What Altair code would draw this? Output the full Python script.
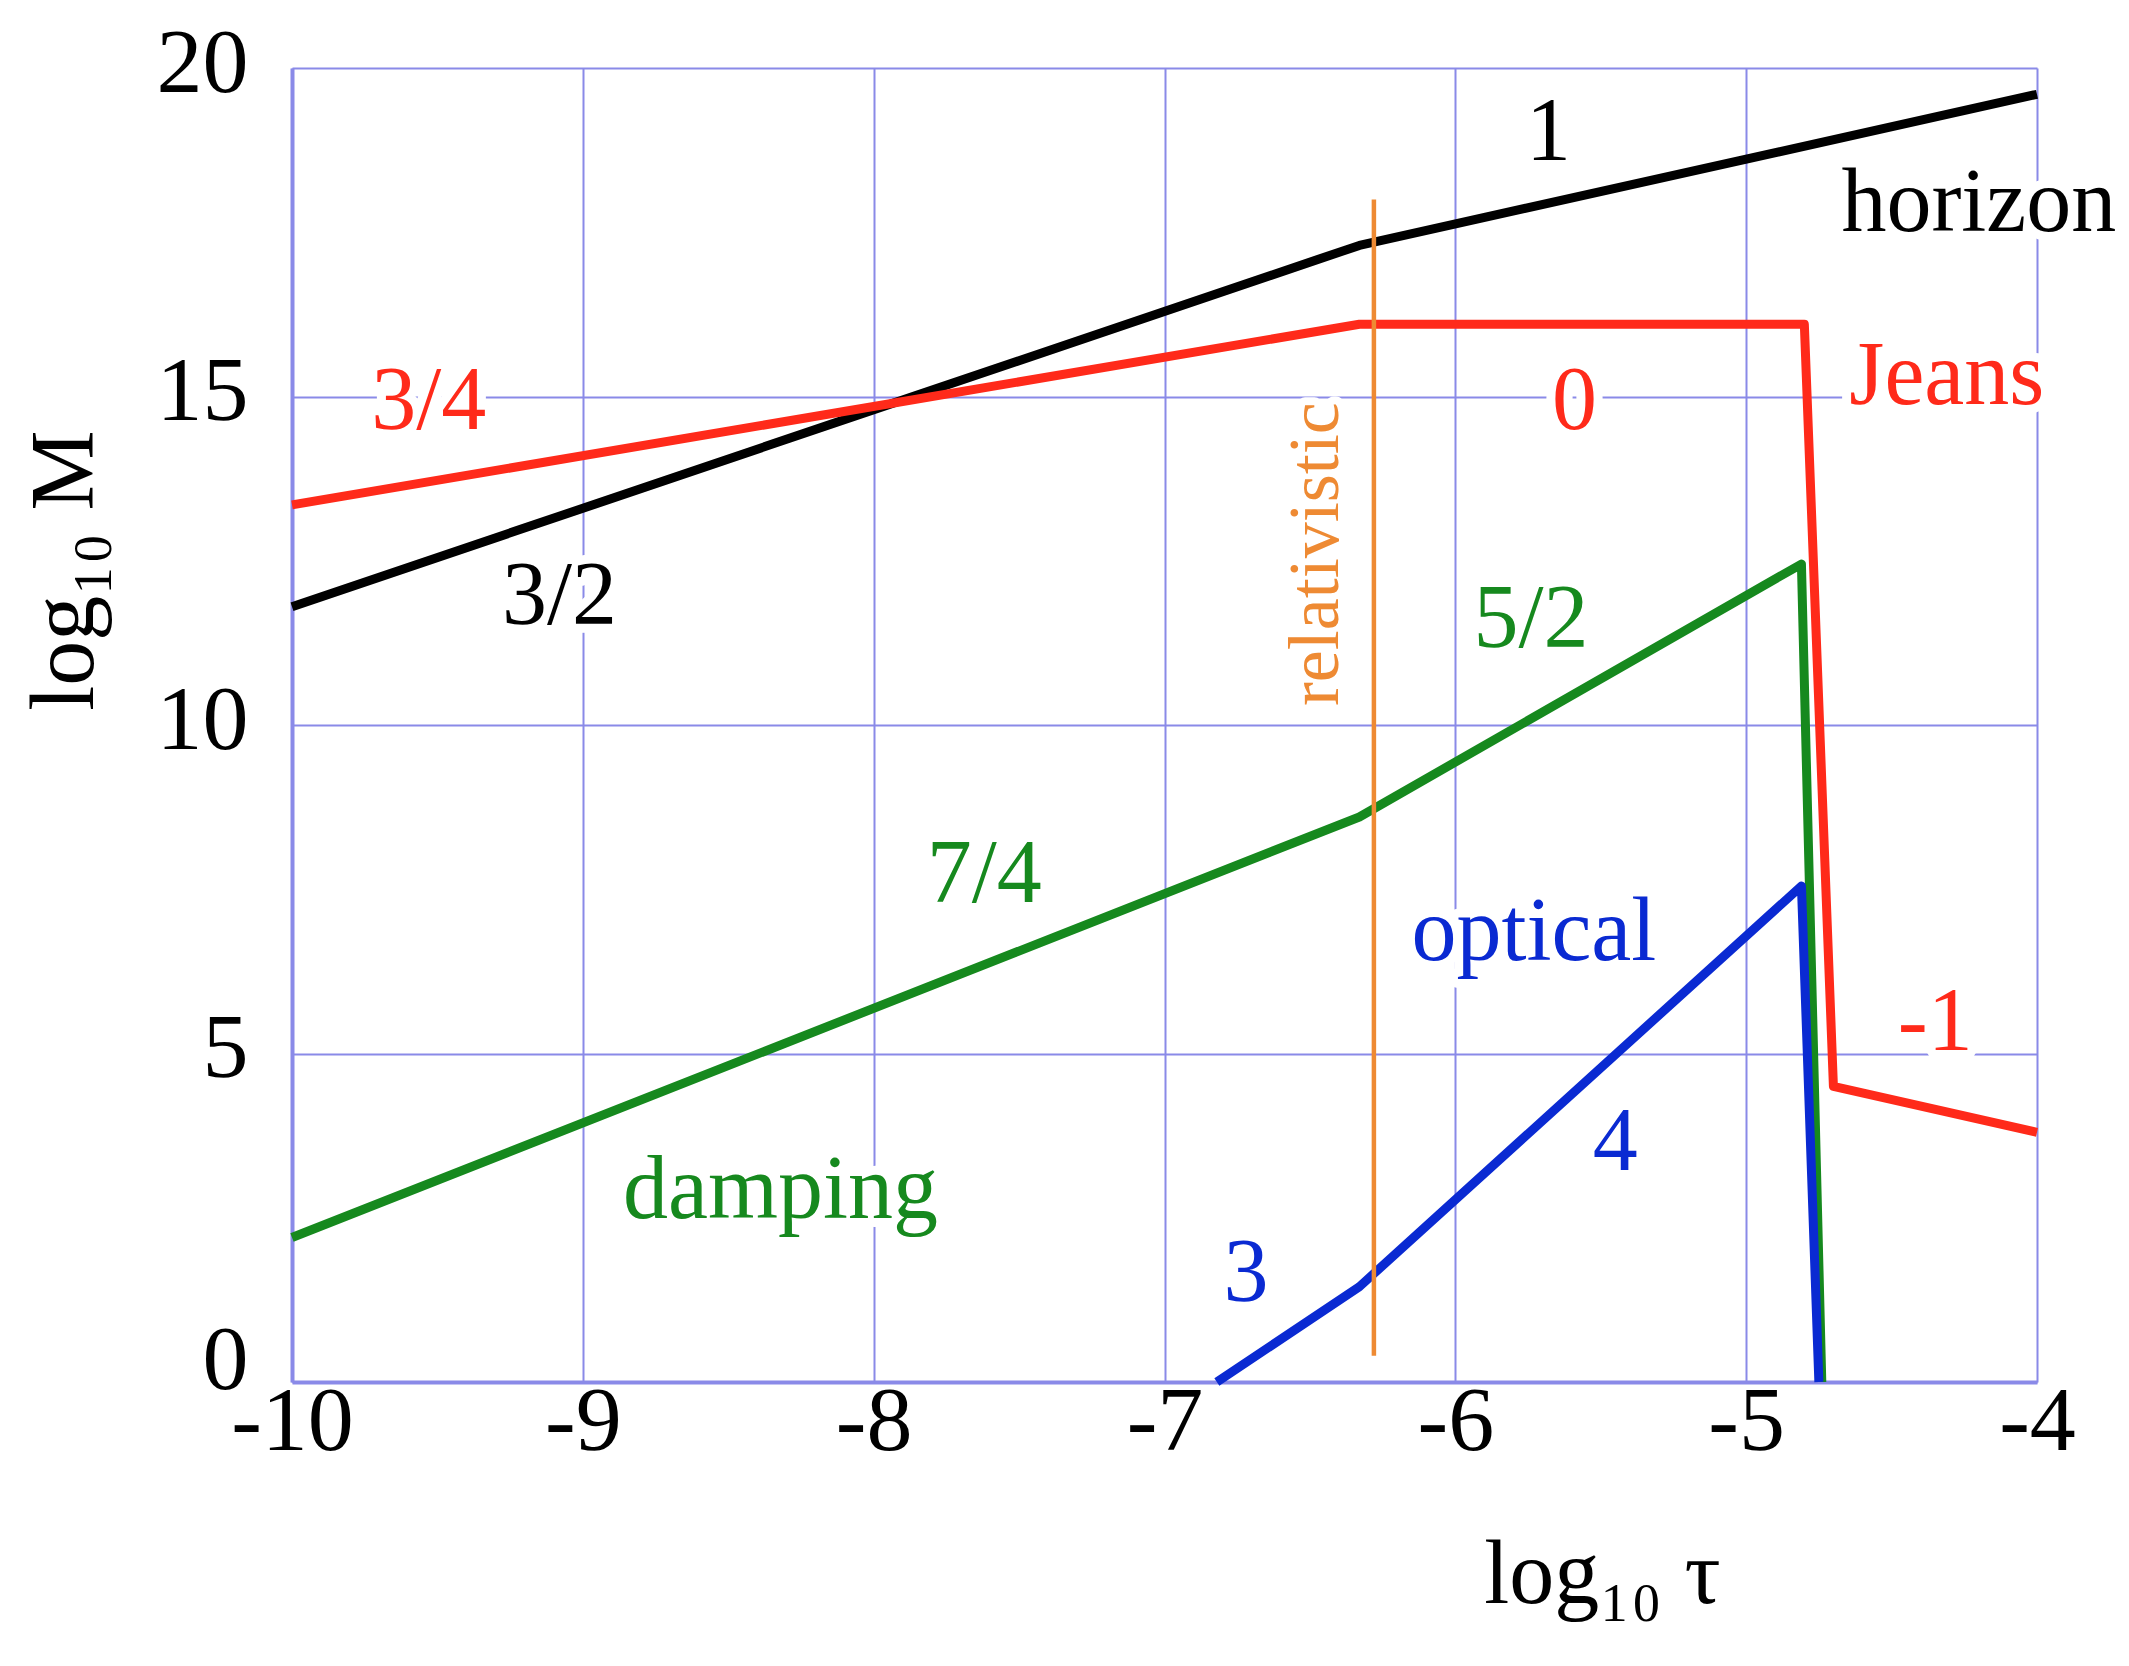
import altair as alt
import pandas as pd

# ---- data (x = log10 tau, y = log10 M) ----
horizon_x = [-10.0, -6.33, -4.0]
horizon_y = [11.8, 17.3, 19.6]
jeans_x = [-10.0, -6.33, -4.80, -4.70, -4.0]
jeans_y = [13.35, 16.1, 16.1, 4.5, 3.8]
damping_x = [-10.0, -6.33, -4.81, -4.74]
damping_y = [2.2, 8.6, 12.45, 0.0]
optical_x = [-6.82, -6.33, -4.81, -4.75]
optical_y = [0.0, 1.45, 7.55, 0.0]
relativistic_x = [-6.28, -6.28]
relativistic_y = [0.4, 18.0]

label_text = ["1", "horizon", "3/4", "0", "Jeans", "3/2", "5/2", "7/4",
              "optical", "-1", "4", "damping", "3"]
label_series = ["horizon", "horizon", "Jeans", "Jeans", "Jeans", "horizon",
                "damping", "damping", "optical", "Jeans", "optical",
                "damping", "optical"]
label_x = [-5.68, -4.20, -9.53, -5.59, -4.31, -9.08, -5.74, -7.62,
           -5.73, -4.35, -5.45, -8.32, -6.72]
label_y = [18.6, 17.52, 14.5, 14.5, 14.88, 11.53, 11.18, 7.31,
           6.43, 5.06, 3.22, 2.5, 1.24]

rel_label_text = ["relativistic"]
rel_label_x = [-6.48]
rel_label_y = [12.6]

x_ticks = [-10, -9, -8, -7, -6, -5, -4]
y_ticks = [0, 5, 10, 15, 20]

series_names = ["horizon", "Jeans", "damping", "optical", "relativistic"]
series_colors = ["#000000", "#ff2a1a", "#16891e", "#0a2ad2", "#ee8a33"]

# ---- tables ----
rows = []
for name, xs, ys in [("horizon", horizon_x, horizon_y),
                     ("Jeans", jeans_x, jeans_y),
                     ("damping", damping_x, damping_y),
                     ("optical", optical_x, optical_y)]:
    for i, (xv, yv) in enumerate(zip(xs, ys)):
        rows.append({"series": name, "i": i, "x": xv, "y": yv})
curves = pd.DataFrame(rows)
rel = pd.DataFrame({"series": "relativistic", "i": [0, 1],
                    "x": relativistic_x, "y": relativistic_y})
labels = pd.DataFrame({"text": label_text, "series": label_series,
                       "x": label_x, "y": label_y})
rel_labels = pd.DataFrame({"text": rel_label_text, "series": "relativistic",
                           "x": rel_label_x, "y": rel_label_y})

FONT = "Liberation Serif"
GRID = "#8a8ae8"

color = alt.Color("series:N", scale=alt.Scale(domain=series_names, range=series_colors), legend=None)

xenc = alt.X("x:Q",
             scale=alt.Scale(domain=[-10, -4], nice=False, zero=False),
             axis=alt.Axis(values=x_ticks, title="log₁₀ τ",
                           labelExpr="'' + datum.value",
                           titleX=1310, titleY=220, titleAlign="center",
                           titleBaseline="alphabetic"))
yenc = alt.Y("y:Q",
             scale=alt.Scale(domain=[0, 20], nice=False, zero=False),
             axis=alt.Axis(values=y_ticks, title="log₁₀ M",
                           labelExpr="'' + datum.value",
                           labelOffset={"condition": {"test": "datum.value == 0", "value": -22},
                                        "value": -5},
                           titleAngle=270, titleX=-200, titleY=502,
                           titleAlign="center", titleBaseline="alphabetic"))

base_curves = alt.Chart(curves).mark_line(strokeWidth=9, strokeJoin="round", strokeCap="butt").encode(
    x=xenc, y=yenc, color=color, detail="series:N", order="i:Q")

rel_line = alt.Chart(rel).mark_line(strokeWidth=4.5).encode(
    x="x:Q", y="y:Q", color=color, order="i:Q")

halo = alt.Chart(labels).mark_text(font=FONT, fontSize=90, align="center", baseline="alphabetic",
                                   color="white", stroke="white", strokeWidth=18,
                                   strokeJoin="round").encode(
    x="x:Q", y="y:Q", text="text:N")
txt = alt.Chart(labels).mark_text(font=FONT, fontSize=90, align="center", baseline="alphabetic").encode(
    x="x:Q", y="y:Q", text="text:N", color=color)

rel_halo = alt.Chart(rel_labels).mark_text(font=FONT, fontSize=72, angle=270, align="center",
                                           baseline="middle", color="white", stroke="white",
                                           strokeWidth=16, strokeJoin="round").encode(
    x="x:Q", y="y:Q", text="text:N")
rel_txt = alt.Chart(rel_labels).mark_text(font=FONT, fontSize=72, angle=270, align="center",
                                          baseline="middle").encode(
    x="x:Q", y="y:Q", text="text:N", color=color)

chart = alt.layer(base_curves, halo, rel_halo, rel_line, txt, rel_txt).properties(
    width=1745, height=1314,
    autosize=alt.AutoSizeParams(type="none"),
    padding={"left": 284, "top": 60, "right": 84, "bottom": 250},
).configure_view(strokeWidth=0).configure_axis(
    grid=True, gridColor=GRID, gridWidth=2, gridOpacity=1,
    domainColor=GRID, domainWidth=4, ticks=False, tickSize=0,
    labelFont=FONT, labelFontSize=92, labelColor="#000000",
    titleFont=FONT, titleFontSize=90, titleFontWeight="normal", titleColor="#000000",
).configure_axisX(labelPadding=-6, labelAlign="center", labelBaseline="top"
).configure_axisY(labelPadding=44, labelAlign="right", labelBaseline="middle")

chart.save("out.html", embed_options={"renderer": "svg", "actions": False})
